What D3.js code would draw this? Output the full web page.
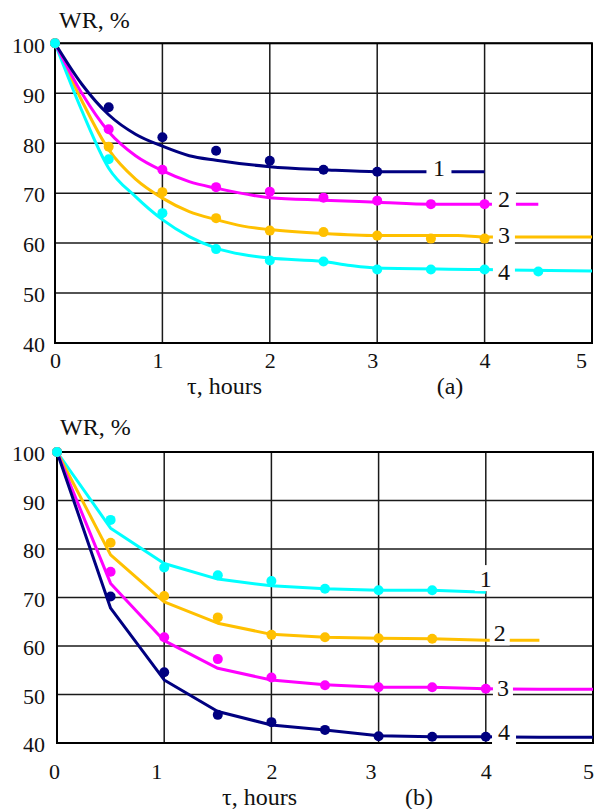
<!DOCTYPE html>
<html><head><meta charset="utf-8">
<script src="https://cdn.jsdelivr.net/npm/d3@7"></script>
<style>
html,body{margin:0;padding:0;background:#fff;}
svg{display:block;}
</style></head>
<body>
<svg id="c" width="597" height="809"></svg>
<script>
// ---------- data ----------
const xTicks = [0,1,2,3,4,5];
const yTicks = [40,50,60,70,80,90,100];
const seriesNames = ["1","2","3","4"];
const panelLabels = ["(a)","(b)"];
const yTitle = "WR, %";
const xTitle = "τ, hours";

// panel (a): measured points
const aPtT = [0,0.5,1,1.5,2,2.5,3,3.5,4,4.5];
const aPts1 = [100,87.2,81.2,78.5,76.5,74.7,74.3];
const aPts2 = [100,82.8,74.7,71.2,70.3,69.1,68.5,67.8,67.8];
const aPts3 = [100,79.3,70.2,65.0,62.5,62.2,61.5,60.9,60.9];
const aPts4 = [100,76.8,66.0,58.8,56.5,56.3,54.7,54.7,54.7,54.3];
// panel (a): fitted curves
const aCurT1 = [0,0.25,0.5,0.75,1,1.25,1.5,2,2.5,3,3.5,4];
const aCur1  = [100,91.8,85.7,81.8,79.4,77.5,76.6,75.3,74.7,74.3,74.3,74.3];
const aCurT2 = [0,0.25,0.5,0.75,1,1.25,1.5,2,2.5,3,3.5,4,4.5];
const aCur2  = [100,90.0,82.3,77.5,74.5,72.3,71.0,69.1,68.6,68.2,67.8,67.8,67.8];
const aCurT3 = [0,0.25,0.5,0.75,1,1.25,1.5,1.75,2,2.5,3,3.5,3.75,4,5];
const aCur3  = [100,88.5,78.7,72.8,69.0,66.3,64.7,63.4,62.7,61.9,61.5,61.5,61.5,61.2,61.2];
const aCurT4 = [0,0.25,0.5,0.75,1,1.25,1.5,1.75,2,2.5,2.75,3,4,5];
const aCur4  = [100,86.5,75.0,69.3,64.7,61.3,59.0,57.7,57.0,56.3,55.5,55.0,54.7,54.4];

// panel (b): measured points
const bPtT = [0,0.5,1,1.5,2,2.5,3,3.5,4];
const bPts1 = [100,86.0,76.2,74.6,73.4,71.8,71.5,71.5];
const bPts2 = [100,81.3,70.3,65.9,62.3,61.8,61.6,61.5];
const bPts3 = [100,75.3,61.8,57.3,53.5,51.9,51.5,51.5,51.2];
const bPts4 = [100,70.2,54.6,45.8,44.3,42.7,41.4,41.3,41.3];
// panel (b): fitted curves
const bCurT = [0,0.5,1,1.5,2,2.5,3,3.5,4,4.5,5];
const bCur1 = [100,84.3,77.0,73.8,72.4,71.8,71.5,71.5,71.1];
const bCur2 = [100,78.8,69.1,64.7,62.4,61.8,61.6,61.5,61.2,61.2];
const bCur3 = [100,72.9,61.1,55.4,53.0,52.0,51.5,51.5,51.2,51.1,51.1];
const bCur4 = [100,67.8,53.0,46.5,43.7,42.7,41.5,41.3,41.3,41.2,41.2];

// ---------- styles ----------
const NAVY="#000080", MAG="#FF00FF", GOLD="#FFC000", CYAN="#00FFFF";
const FONT = "Liberation Serif";

const svg = d3.select("#c");
const zip = (ts, vs) => vs.map((v,i)=>({t:ts[i], v:v}));
function txt(sel, size){
  return sel.attr("font-family",FONT).style("font-family",FONT).attr("font-size",size).style("font-size",size+"px").attr("fill","#111");
}

function panel(cfg){
  const x = d3.scaleLinear().domain([0,5]).range([cfg.x0, cfg.x1]);
  const y = d3.scaleLinear().domain([40,100]).range([cfg.yb, cfg.yt]);
  const g = svg.append("g");

  // grid
  const grid = g.append("g");
  grid.selectAll("line.h").data(yTicks).join("line")
    .attr("x1", x(0)).attr("x2", x(5)).attr("y1", d=>y(d)).attr("y2", d=>y(d))
    .attr("stroke","#1a1a1a").attr("stroke-width",1.5);
  grid.selectAll("line.v").data(xTicks).join("line")
    .attr("y1", y(40)).attr("y2", y(100)).attr("x1", d=>x(d)).attr("x2", d=>x(d))
    .attr("stroke","#1a1a1a").attr("stroke-width",1.5);
  // frame
  g.append("rect").attr("x",x(0)).attr("y",y(100)).attr("width",x(5)-x(0)).attr("height",y(40)-y(100))
    .attr("fill","none").attr("stroke","#000").attr("stroke-width",2);

  // y tick labels
  const ya = g.append("g").attr("transform",`translate(${x(0)},0)`)
    .call(d3.axisLeft(y).tickValues(yTicks).tickSize(0).tickPadding(cfg.ypad).tickFormat(d3.format("d")));
  ya.select(".domain").remove();
  txt(ya.selectAll("text"), 22).attr("dy","0.4em");

  // x tick labels
  const xa = g.append("g").attr("transform",`translate(0,${y(40)})`)
    .call(d3.axisBottom(x).tickValues(xTicks).tickSize(0).tickPadding(0).tickFormat(d3.format("d")));
  xa.select(".domain").remove();
  txt(xa.selectAll("text"), 22)
    .attr("dy",null).attr("y", cfg.xlabBase - y(40))
    .attr("dx", d => cfg.xlabDx(d));

  // curves
  const line = d3.line().x(d=>x(d.t)).y(d=>y(d.v)).curve(cfg.curve);
  const lines = g.append("g");
  cfg.curves.forEach(c=>{
    lines.append("path").attr("d", line(c.data)).attr("fill","none")
      .attr("stroke", c.color).attr("stroke-width",3).attr("stroke-linejoin","round");
  });
  // points
  cfg.points.forEach(p=>{
    g.append("g").selectAll("circle").data(p.data).join("circle")
      .attr("cx", d=>x(d.t)).attr("cy", d=>y(d.v)).attr("r",5).attr("fill",p.color);
  });
  // series labels with white knockout
  cfg.labels.forEach((l,i)=>{
    const cx = x(l.t), cy = y(l.v);
    g.append("rect").attr("x",cx-l.w/2).attr("y",cy-13).attr("width",l.w).attr("height",26).attr("fill","#fff");
    txt(g.append("text"), 24).attr("x",cx).attr("y",cy).attr("dy","0.35em").attr("text-anchor","middle")
      .text(seriesNames[i]);
  });
  // titles
  txt(g.append("text"), 24).attr("x",cfg.yTitleX).attr("y",cfg.yTitleY).text(yTitle);
  txt(g.append("text"), 24).attr("x",cfg.xTitleX).attr("y",cfg.xTitleY).text(xTitle);
  txt(g.append("text"), 24).attr("x",cfg.panX).attr("y",cfg.xTitleY).attr("text-anchor","middle").text(cfg.panel);
}

panel({
  x0:55, x1:592, yt:43.3, yb:343, ypad:10,
  xlabBase:368, xlabDx: d => d===5 ? -11 : (d===1||d===3 ? -5 : 0),
  curve: d3.curveMonotoneX,
  curves:[
    {color:GOLD, data:zip(aCurT3,aCur3)},
    {color:CYAN, data:zip(aCurT4,aCur4)},
    {color:MAG,  data:zip(aCurT2,aCur2)},
    {color:NAVY, data:zip(aCurT1,aCur1)}
  ],
  points:[
    {color:NAVY, data:zip(aPtT,aPts1)},
    {color:MAG,  data:zip(aPtT,aPts2)},
    {color:GOLD, data:zip(aPtT,aPts3)},
    {color:CYAN, data:zip(aPtT,aPts4)}
  ],
  labels:[
    {t:3.575, v:75.2, w:25},
    {t:4.18, v:68.9, w:24},
    {t:4.18, v:61.7, w:22},
    {t:4.18, v:54.3, w:22}
  ],
  yTitleX:59, yTitleY:28, xTitleX:187, xTitleY:394, panel:panelLabels[0], panX:450
});

panel({
  x0:57, x1:593, yt:452, yb:743, ypad:12,
  xlabBase:779, xlabDx: d => d===0 ? -3 : (d===1||d===3 ? -8 : (d===5 ? -5 : 0)),
  curve: d3.curveLinear,
  curves:[
    {color:CYAN, data:zip(bCurT,bCur1)},
    {color:GOLD, data:zip(bCurT,bCur2)},
    {color:MAG,  data:zip(bCurT,bCur3)},
    {color:NAVY, data:zip(bCurT,bCur4)}
  ],
  points:[
    {color:NAVY, data:zip(bPtT,bPts4)},
    {color:MAG,  data:zip(bPtT,bPts3)},
    {color:GOLD, data:zip(bPtT,bPts2)},
    {color:CYAN, data:zip(bPtT,bPts1)}
  ],
  labels:[
    {t:4.0, v:74.0, w:22},
    {t:4.13, v:62.8, w:20},
    {t:4.16, v:51.4, w:20},
    {t:4.17, v:42.3, w:24}
  ],
  yTitleX:60, yTitleY:435, xTitleX:222, xTitleY:805, panel:panelLabels[1], panX:419
});
</script>
</body></html>
